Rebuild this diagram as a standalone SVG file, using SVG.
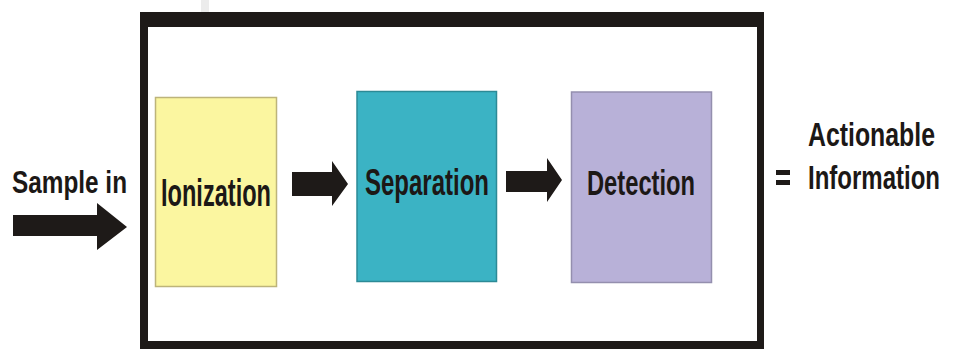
<svg xmlns="http://www.w3.org/2000/svg" width="955" height="349" viewBox="0 0 955 349">
  <style>
    .lbl { font-family: "Liberation Sans", Arial, sans-serif; font-weight: bold; fill: #1c1816; }
    .arrow { fill: #1e1a18; }
    .frame { fill: #1e1a18; }
  </style>
  <rect width="955" height="349" fill="#ffffff"/>
  <!-- faint mark above the frame -->
  <rect x="201" y="0" width="8" height="12" fill="#ececec"/>

  <!-- outer frame -->
  <g id="frame">
    <rect class="frame" x="140" y="12" width="624" height="345"/>
    <rect x="148" y="27" width="609" height="314" fill="#ffffff"/>
  </g>

  <!-- stages -->
  <g id="ionization">
    <rect x="155.5" y="97.5" width="121" height="189" fill="#fbf6a0" stroke="#bdb47a" stroke-width="1.5"/>
    <text class="lbl" x="161" y="206" font-size="38" textLength="110" lengthAdjust="spacingAndGlyphs">Ionization</text>
  </g>
  <g id="separation">
    <rect x="357" y="91.5" width="139.5" height="190" fill="#3bb3c4" stroke="#2c8a96" stroke-width="1.5"/>
    <text class="lbl" x="365" y="195" font-size="36" textLength="124" lengthAdjust="spacingAndGlyphs">Separation</text>
  </g>
  <g id="detection">
    <rect x="571.5" y="92" width="140" height="190.5" fill="#b8b1d8" stroke="#948fae" stroke-width="1.5"/>
    <text class="lbl" x="587" y="195" font-size="35" textLength="108" lengthAdjust="spacingAndGlyphs">Detection</text>
  </g>

  <!-- input and output labels -->
  <g id="sample-in">
    <text class="lbl" x="12" y="193" font-size="31" textLength="115" lengthAdjust="spacingAndGlyphs">Sample in</text>
  </g>
  <g id="result">
    <rect x="776" y="170" width="14" height="5" class="arrow"/>
    <rect x="776" y="180" width="14" height="5" class="arrow"/>
    <!-- set small and stretched vertically to get the tall condensed look -->
    <text class="lbl" transform="translate(808,146) scale(1,1.27)" x="0" y="0" font-size="26" textLength="127" lengthAdjust="spacingAndGlyphs">Actionable</text>
    <text class="lbl" transform="translate(808,189) scale(1,1.27)" x="0" y="0" font-size="26" textLength="132" lengthAdjust="spacingAndGlyphs">Information</text>
  </g>

  <!-- block arrows -->
  <g id="connectors">
    <polygon class="arrow" points="13,215 97,215 97,203 127,227 97,250 97,236 13,236"/>
    <polygon class="arrow" points="292,172 332,172 332,161 348,184 332,206 332,196 292,196"/>
    <polygon class="arrow" points="506,171 547,171 547,158 562,180 547,202 547,192 506,192"/>
  </g>
</svg>
